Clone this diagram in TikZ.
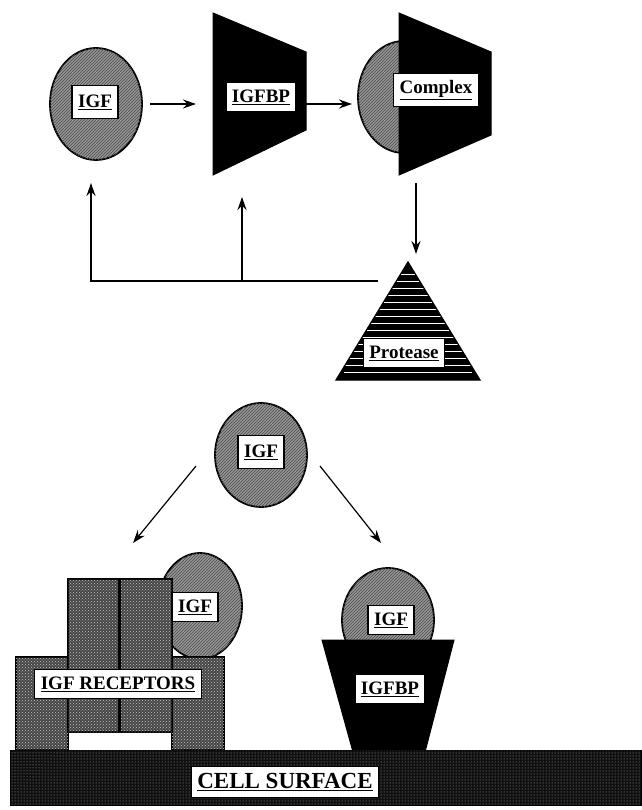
\documentclass[tikz,border=0pt]{standalone}
\usepackage{fontspec}
\setmainfont{Liberation Serif}
\usetikzlibrary{shapes.geometric,arrows.meta,positioning,patterns}
\definecolor{hatchgray}{RGB}{150,150,150}
\definecolor{brickgray}{RGB}{70,70,70}
\definecolor{cellblack}{RGB}{15,15,15}

\begin{document}
\begin{tikzpicture}[x=1pt, y=-1pt,
    igfball/.style={ellipse, draw, line width=1.8pt, fill=hatchgray, postaction={pattern=north east lines, pattern color=black!70}, inner sep=0pt},
    lbl/.style={draw, fill=white, line width=1.3pt, inner xsep=6pt, inner ysep=7pt, font=\fontsize{19}{20}\selectfont\bfseries},
    bp/.style={fill=black, draw, line width=1pt},
    brick/.style={draw, line width=1.2pt, fill=brickgray, postaction={pattern=crosshatch dots, pattern color=gray!45}},
    arrow/.style={-{Stealth[length=13pt,width=9pt]}, line width=1.5pt}
]
    \useasboundingbox (0,0) rectangle (641,810);

    % --- top row: IGF + IGFBP -> complex
    \node[igfball, minimum width=92pt, minimum height=112pt] (igfA) at (96,104) {};
    \node[lbl, inner ysep=9pt] (igfAl) at (95,102) {\underline{IGF}};

    \draw[bp] (213,13) -- (306,52) -- (306,130) -- (213,175) -- cycle;
    \node[lbl] (bpAl) at (261,97) {\underline{IGFBP}};

    \node[igfball, minimum width=92pt, minimum height=112pt] (cplxball) at (404,97) {};
    \draw[bp] (399,13) -- (491,52) -- (491,135) -- (399,175) -- cycle;
    \node[lbl] (cplxl) at (436,90) {\underline{Complex}};

    \coordinate (a1s) at (150,104);
    \coordinate (a1e) at (196,104);
    \coordinate (a2s) at (306,104);
    \coordinate (a2e) at (352,104);
    \draw[arrow] (a1s) -- (a1e);
    \draw[arrow] (a2s) -- (a2e);

    % --- protease and feedback
    \fill (408,262) -- (480,380) -- (336,380) -- cycle;
    \begin{scope}
        \clip (408,262) -- (480,380) -- (336,380) -- cycle;
        \foreach \yy in {274,281,...,375}
            \draw[white, line width=0.8pt] (344,\yy) -- (472,\yy);
    \end{scope}
    \draw[line width=1.2pt] (408,262) -- (480,380) -- (336,380) -- cycle;
    \node[lbl] (protl) at (404,353) {\underline{Protease}};

    \coordinate (c1) at (416,183);
    \coordinate (c2) at (416,254);
    \draw[arrow] (c1) -- (c2);

    \coordinate (fb) at (378,281);
    \coordinate (fbA) at (91,183);
    \coordinate (fbB) at (242,281);
    \coordinate (fbBe) at (242,197);
    \draw[arrow] (fb) -| (fbA);
    \draw[arrow] (fbB) -- (fbBe);

    % --- bottom: IGF to receptors / binding protein
    \node[igfball, minimum width=92pt, minimum height=104pt] (igfB) at (261,455) {};
    \node[lbl, inner ysep=9pt] (igfBl) at (261,452) {\underline{IGF}};

    \coordinate (l1) at (196,466);
    \coordinate (l2) at (133,543);
    \coordinate (r1) at (320,466);
    \coordinate (r2) at (381,543);
    \draw[arrow, line width=1.2pt] (l1) -- (l2);
    \draw[arrow, line width=1.2pt] (r1) -- (r2);

    \node[igfball, minimum width=84pt, minimum height=106pt] (igfC) at (200,606) {};
    \draw[brick] (16,657) -- (224,657) -- (224,750) -- (172,750) -- (172,732) -- (68,732) -- (68,750) -- (16,750) -- cycle;
    \draw[brick] (68,579) rectangle (119,732);
    \draw[brick] (119,579) rectangle (172,732);
    \draw[line width=3pt] (119,579) -- (119,732);
    \node[lbl] (igfCl) at (195,607) {\underline{IGF}};
    \node[lbl] (rcptl) at (118,684) {\underline{IGF RECEPTORS}};

    \node[igfball, minimum width=92pt, minimum height=104pt] (igfD) at (388,620) {};
    \draw[bp] (322,640) -- (454,640) -- (425,752) -- (353,752) -- cycle;
    \node[lbl] (igfDl) at (391,620) {\underline{IGF}};
    \node[lbl] (bpBl) at (390,689) {\underline{IGFBP}};

    % --- cell surface
    \draw[fill=cellblack, draw=black, line width=1pt, postaction={pattern=dots, pattern color=gray!60}] (10,750) rectangle (641,805);
    \node[lbl, font=\fontsize{23}{24}\selectfont\bfseries, fill=white] (cell) at (285,782) {\underline{CELL SURFACE}};
\end{tikzpicture}
\end{document}
